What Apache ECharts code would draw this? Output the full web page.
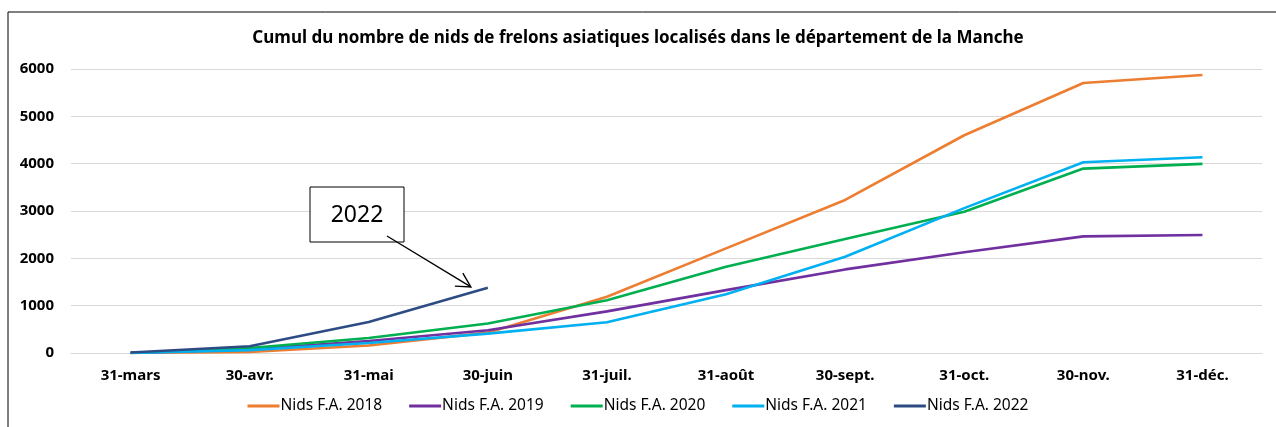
<!DOCTYPE html>
<html>
<head>
<meta charset="utf-8">
<script src="https://cdn.jsdelivr.net/npm/echarts@6/dist/echarts.min.js"></script>
<style>
  html, body { margin: 0; padding: 0; background: #fff; }
  #chart { width: 1276px; height: 427px; }
</style>
</head>
<body>
<div id="chart"></div>
<script>
const categories = ['31-mars', '30-avr.', '31-mai', '30-juin', '31-juil.', '31-août', '30-sept.', '31-oct.', '30-nov.', '31-déc.']
const yTicks = [0, 1000, 2000, 3000, 4000, 5000, 6000]
const nids2018 = [0, 20, 157, 430, 1190, 2210, 3233, 4600, 5704, 5873]
const nids2019 = [0, 80, 254, 480, 880, 1328, 1766, 2130, 2464, 2492]
const nids2020 = [0, 106, 318, 622, 1116, 1821, 2407, 2985, 3896, 3995]
const nids2021 = [0, 60, 212, 410, 650, 1243, 2033, 3060, 4031, 4137]
const nids2022 = [10, 142, 657, 1376]

const seriesNames = ['Nids F.A. 2018', 'Nids F.A. 2019', 'Nids F.A. 2020', 'Nids F.A. 2021', 'Nids F.A. 2022']
const seriesData = [nids2018, nids2019, nids2020, nids2021, nids2022]
const colors = ['#ED7D31', '#7030A0', '#00B050', '#00B0F0', '#2E4C84']

const font = 'Noto Sans'
const myChart = echarts.init(document.getElementById('chart'))

const option = {
  backgroundColor: '#fff',
  animation: false,
  color: colors,
  title: {
    text: 'Cumul du nombre de nids de frelons asiatiques localisés dans le département de la Manche',
    left: 'center',
    top: 25,
    textStyle: { fontFamily: font, fontSize: 17, fontWeight: 'bold', color: '#000' }
  },
  legend: {
    bottom: 8,
    left: 'center',
    itemWidth: 32,
    itemHeight: 3,
    itemGap: 27,
    icon: 'rect',
    textStyle: { fontFamily: font, fontSize: 15.5, color: '#000', padding: [0, 0, 0, -4] },
    data: seriesNames
  },
  grid: { left: 71, right: 14, top: 69, bottom: 74 },
  xAxis: {
    type: 'category',
    data: categories,
    boundaryGap: true,
    axisLine: { lineStyle: { color: '#d9d9d9', width: 1 } },
    axisTick: { show: false },
    axisLabel: { margin: 15, fontFamily: font, fontSize: 15, fontWeight: 'bold', color: '#000' }
  },
  yAxis: {
    type: 'value',
    min: yTicks[0],
    max: yTicks[yTicks.length - 1],
    interval: 1000,
    axisLine: { show: false },
    axisTick: { show: false },
    splitLine: { lineStyle: { color: '#d9d9d9', width: 1 } },
    axisLabel: {
      margin: 17, fontFamily: font, fontSize: 15, fontWeight: 'bold', color: '#000',
      formatter: v => String(v)
    }
  },
  series: seriesNames.map((name, i) => ({
    name: name,
    type: 'line',
    data: seriesData[i],
    showSymbol: false,
    symbol: 'none',
    lineStyle: { width: 2.6, color: colors[i] },
    z: 2
  })),
  graphic: [
    {
      type: 'rect',
      shape: { x: 8, y: 12, width: 1400, height: 600 },
      style: { fill: 'none', stroke: '#000', lineWidth: 1 },
      silent: true
    }
  ]
}
myChart.setOption(option)

// annotation box + arrow pointing to the last 2022 point
const tip = myChart.convertToPixel({ seriesIndex: 4 }, [3, nids2022[3]])
const tx = tip[0] - 17, ty = tip[1] - 1
const sx = 387, sy = 236
const ang = Math.atan2(ty - sy, tx - sx)
const hl = 16, ha = 0.5
myChart.setOption({
  graphic: [
    option.graphic[0],
    {
      type: 'rect',
      shape: { x: 310, y: 187, width: 94, height: 55 },
      style: { fill: '#fff', stroke: '#000', lineWidth: 1 },
      z: 10
    },
    {
      type: 'text',
      x: 357, y: 215,
      style: { text: '2022', fontFamily: font, fontSize: 23, fill: '#000', align: 'center', verticalAlign: 'middle' },
      z: 11
    },
    {
      type: 'line',
      shape: { x1: sx, y1: sy, x2: tx, y2: ty },
      style: { stroke: '#000', lineWidth: 1.4 },
      z: 11
    },
    {
      type: 'polyline',
      shape: {
        points: [
          [tx - hl * Math.cos(ang - ha), ty - hl * Math.sin(ang - ha)],
          [tx, ty],
          [tx - hl * Math.cos(ang + ha), ty - hl * Math.sin(ang + ha)]
        ]
      },
      style: { stroke: '#000', lineWidth: 1.4, fill: 'none' },
      z: 11
    }
  ]
})
</script>
</body>
</html>
